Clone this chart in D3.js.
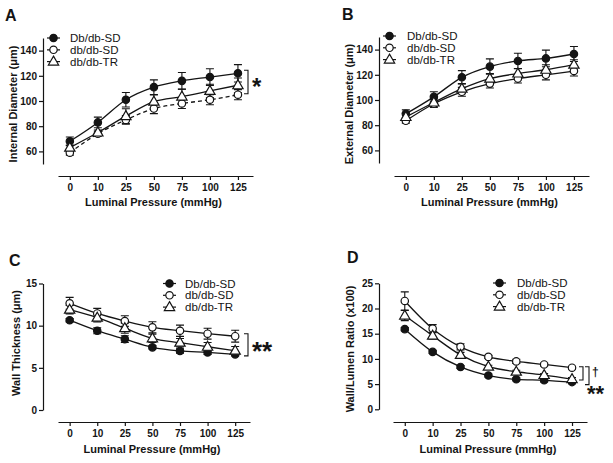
<!DOCTYPE html>
<html>
<head>
<meta charset="utf-8">
<script src="https://cdn.jsdelivr.net/npm/d3@7"></script>
<style>
  body { margin: 0; background: #fff; }
  svg { display: block; font-family: "Liberation Sans", Arial, sans-serif; }
</style>
</head>
<body>
<div id="chart"></div>
<script>
// x categories (luminal pressure, mmHg)
var pressures = ["0", "10", "25", "50", "75", "100", "125"];
var groupNames = ["Db/db-SD", "db/db-SD", "db/db-TR"];

// A - internal diameter (um)
var innerDbSD = [68, 83, 101, 111, 116, 119, 122];
var innerDbSDErr = [3.4, 4.2, 5.8, 5.8, 6.6, 6.6, 6.9];
var innerSD = [59, 74, 85, 94, 98, 101, 105];
var innerSDErr = [2, 2, 3.4, 4, 4, 4, 4];
var innerTR = [63, 75, 88, 99.5, 103.5, 108, 112.5];
var innerTRErr = [2, 2, 5.8, 5.3, 5.8, 5.3, 5.8];

// B - external diameter (um)
var outerDbSD = [89, 102.5, 118, 126.5, 131, 133, 136.5];
var outerDbSDErr = [3.2, 4, 5.3, 6.1, 6.1, 6.6, 6];
var outerSD = [83.5, 97, 106.5, 113, 117, 120, 123];
var outerSDErr = [2, 3, 3.5, 3.5, 3.5, 4, 4];
var outerTR = [86.5, 98, 109, 117, 121, 124, 128];
var outerTRErr = [3, 3, 4, 4, 4, 4, 4];

// C - wall thickness (um)
var wallDbSD = [10.65, 9.4, 8.4, 7.43, 7.0, 6.83, 6.6];
var wallDbSDErr = [0.2, 0.35, 0.4, 0.2, 0.25, 0.25, 0.2];
var wallSD = [12.65, 11.45, 10.55, 9.8, 9.4, 9.05, 8.75];
var wallSDErr = [0.7, 0.6, 0.63, 0.66, 0.67, 0.64, 0.7];
var wallTR = [11.9, 10.95, 9.7, 8.5, 7.98, 7.5, 7.03];
var wallTRErr = [0.5, 0.5, 0.6, 0.5, 0.5, 0.5, 0.5];

// D - wall/lumen ratio (x100)
var ratioDbSD = [15.9, 11.4, 8.4, 6.7, 5.95, 5.75, 5.4];
var ratioDbSDErr = [0.3, 0.3, 0.3, 0.3, 0.3, 0.3, 0.3];
var ratioSD = [21.5, 16, 12.4, 10.4, 9.5, 8.9, 8.25];
var ratioSDErr = [1.8, 0.8, 0.6, 0.3, 0.4, 0.3, 0.3];
var ratioTR = [18.6, 14.6, 10.8, 8.45, 7.46, 6.8, 6.0];
var ratioTRErr = [1.0, 0.7, 0.5, 0.3, 0.3, 0.3, 0.3];

var yTicksDiam = [60, 80, 100, 120, 140];
var yTicksWall = [0, 5, 10, 15];
var yTicksRatio = [0, 5, 10, 15, 20, 25];

var ink = "#141414";
var font = "'Liberation Sans', Arial, sans-serif";

var svg = d3.select("#chart").append("svg")
	.attr("width", 613)
	.attr("height", 463)
	.style("background", "#fff");

// layout of the four panels
var panels = [
	{ letter: "A", letterX: 5, letterY: 21, x0: 58, x1: 253, xAxisY: 176, yAxisX: 43,
	  yDomain: [50, 150], yRange: [164, 38], yTicks: yTicksDiam,
	  yLabel: "Internal Diameter  (\u03bcm)", yLabelX: 17, yLabelY: 104, xLabelY: 206,
	  legend: { x: 47, y: 38, textX: 70 }, dashed: 1,
	  values: [innerDbSD, innerSD, innerTR], errors: [innerDbSDErr, innerSDErr, innerTRErr] },
	{ letter: "B", letterX: 342, letterY: 20, x0: 394, x1: 589, xAxisY: 176, yAxisX: 379,
	  yDomain: [50, 150], yRange: [163, 37], yTicks: yTicksDiam,
	  yLabel: "External Diameter  (\u03bcm)", yLabelX: 353, yLabelY: 104, xLabelY: 206,
	  legend: { x: 383, y: 36, textX: 407 }, dashed: -1,
	  values: [outerDbSD, outerSD, outerTR], errors: [outerDbSDErr, outerSDErr, outerTRErr] },
	{ letter: "C", letterX: 9, letterY: 266, x0: 58, x1: 250, xAxisY: 422, yAxisX: 43,
	  yDomain: [0, 15], yRange: [410, 283.5], yTicks: yTicksWall,
	  yLabel: "Wall Thickness (\u03bcm)", yLabelX: 20, yLabelY: 343, xLabelY: 453,
	  legend: { x: 163, y: 283.5, textX: 185 }, dashed: -1,
	  values: [wallDbSD, wallSD, wallTR], errors: [wallDbSDErr, wallSDErr, wallTRErr] },
	{ letter: "D", letterX: 347, letterY: 263, x0: 393, x1: 587, xAxisY: 422, yAxisX: 379,
	  yDomain: [0, 25], yRange: [409.3, 283.3], yTicks: yTicksRatio,
	  yLabel: "Wall/Lumen Ratio  (x100)", yLabelX: 354, yLabelY: 349, xLabelY: 453,
	  legend: { x: 493, y: 283, textX: 517 }, dashed: -1,
	  values: [ratioDbSD, ratioSD, ratioTR], errors: [ratioDbSDErr, ratioSDErr, ratioTRErr] }
];

// marker drawing: 0 filled circle, 1 open circle, 2 open triangle
function drawMarker(g, kind, cx, cy) {
	if (kind === 2) {
		g.append("path")
			.attr("d", d3.symbol().type(d3.symbolTriangle).size(46)())
			.attr("transform", "translate(" + cx + "," + (cy + 0.5) + ")")
			.attr("fill", "#fff").attr("stroke", ink).attr("stroke-width", 1.2);
	} else {
		g.append("circle")
			.attr("cx", cx).attr("cy", cy)
			.attr("r", 3.7)
			.attr("fill", kind === 0 ? ink : "#fff")
			.attr("stroke", ink).attr("stroke-width", 1.2);
	}
}

function drawPanel(p) {
	var g = svg.append("g");

	var x = d3.scalePoint()
		.domain(pressures)
		.range([p.x0, p.x1])
		.padding(0.48)
		.align(0.44);

	var y = d3.scaleLinear()
		.domain(p.yDomain)
		.range(p.yRange);

	// y axis
	var ya = g.append("g")
		.attr("transform", "translate(" + p.yAxisX + ",0)")
		.call(d3.axisLeft(y).tickValues(p.yTicks).tickSize(4).tickSizeOuter(0).tickPadding(2));
	// x axis (detached line under the plot)
	var xa = g.append("g")
		.attr("transform", "translate(0," + p.xAxisY + ")")
		.call(d3.axisBottom(x).tickSize(4).tickSizeOuter(0).tickPadding(4));

	[ya, xa].forEach(function(a) {
		a.selectAll("path, line").attr("stroke", ink).attr("stroke-width", 1.2);
		a.selectAll("text")
			.attr("fill", ink)
			.style("font-family", font)
			.style("font-weight", "bold")
			.style("font-size", "10px");
	});

	// panel letter
	g.append("text")
		.attr("x", p.letterX).attr("y", p.letterY)
		.text(p.letter)
		.attr("fill", ink)
		.style("font-weight", "bold")
		.style("font-size", "16px");

	// axis titles
	g.append("text")
		.attr("x", (p.x0 + p.x1) / 2 - 2).attr("y", p.xLabelY)
		.attr("text-anchor", "middle")
		.text("Luminal Pressure (mmHg)")
		.attr("fill", ink)
		.style("font-weight", "bold")
		.style("font-size", "11px");

	g.append("text")
		.attr("transform", "translate(" + p.yLabelX + "," + p.yLabelY + ")rotate(-90)")
		.attr("text-anchor", "middle")
		.text(p.yLabel)
		.attr("fill", ink)
		.style("font-weight", "bold")
		.style("font-size", "11px");

	// error bars
	p.values.forEach(function(vals, s) {
		vals.forEach(function(v, i) {
			var cx = x(pressures[i]);
			var e = p.errors[s][i];
			var top = y(v + e), bot = y(v - e);
			g.append("path")
				.attr("d", "M" + cx + "," + top + "V" + bot +
					"M" + (cx - 4) + "," + top + "H" + (cx + 4) +
					"M" + (cx - 4) + "," + bot + "H" + (cx + 4))
				.attr("fill", "none").attr("stroke", ink).attr("stroke-width", 1.1);
		});
	});

	// lines
	var line = d3.line()
		.x(function(d, i) { return x(pressures[i]); })
		.y(function(d) { return y(d); })
		.curve(d3.curveMonotoneX);

	p.values.forEach(function(vals, s) {
		g.append("path")
			.datum(vals)
			.attr("d", line)
			.attr("fill", "none")
			.attr("stroke", ink)
			.attr("stroke-width", 1.3)
			.attr("stroke-dasharray", s === p.dashed ? "4,3" : null);
	});

	// markers
	p.values.forEach(function(vals, s) {
		vals.forEach(function(v, i) {
			drawMarker(g, s, x(pressures[i]), y(v));
		});
	});

	// legend
	groupNames.forEach(function(name, s) {
		var ly = p.legend.y + s * 11.8;
		g.append("line")
			.attr("x1", p.legend.x).attr("x2", p.legend.x + 13)
			.attr("y1", ly).attr("y2", ly)
			.attr("stroke", ink).attr("stroke-width", 1.2)
			.attr("stroke-dasharray", s === p.dashed ? "3,2" : null);
		drawMarker(g, s, p.legend.x + 6.5, ly);
		g.append("text")
			.attr("x", p.legend.textX).attr("y", ly + 4)
			.text(name)
			.attr("fill", ink)
			.style("font-size", "11.5px");
	});

	return { g: g, x: x, y: y };
}

var drawn = panels.map(drawPanel);

// significance marks
function bracket(g, xr, y1, y2) {
	g.append("path")
		.attr("d", "M" + (xr - 4) + "," + y1 + "H" + xr + "V" + y2 + "H" + (xr - 4))
		.attr("fill", "none").attr("stroke", ink).attr("stroke-width", 1.1);
}
function mark(g, tx, ty, txt, size) {
	g.append("text")
		.attr("x", tx).attr("y", ty)
		.text(txt)
		.attr("fill", ink)
		.style("font-weight", "bold")
		.style("font-size", size + "px");
}

var A = drawn[0], C = drawn[2], D = drawn[3];
bracket(A.g, 248, A.y(innerDbSD[6]) - 3, A.y(innerSD[6]) - 1);
mark(A.g, 252, 95, "*", 24);

bracket(C.g, 248, C.y(wallSD[6]) - 2.5, C.y(wallDbSD[6]) + 1.5);
mark(C.g, 252, 360, "**", 26);

bracket(D.g, 583, D.y(ratioSD[6]) - 1, D.y(ratioTR[6]) + 1);
bracket(D.g, 589, D.y(ratioSD[6]) - 1, D.y(ratioDbSD[6]) + 2.5);
mark(D.g, 592, 376, "\u2020", 12);
mark(D.g, 587, 401, "**", 22);
</script>
</body>
</html>
